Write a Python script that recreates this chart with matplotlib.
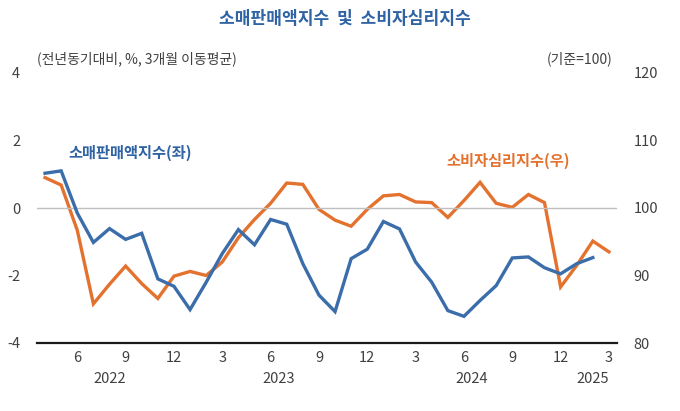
import matplotlib
matplotlib.use("Agg")
import matplotlib.pyplot as plt
import numpy as np

plt.rcParams['font.family'] = ['Noto Sans CJK KR', 'DejaVu Sans']

# ---- data ----
months = [4, 5, 6, 7, 8, 9, 10, 11, 12,
          1, 2, 3, 4, 5, 6, 7, 8, 9, 10, 11, 12,
          1, 2, 3, 4, 5, 6, 7, 8, 9, 10, 11, 12,
          1, 2, 3]
years = ['2022', '2023', '2024', '2025']
year_centers = [4, 14.5, 26.5, 34]  # category index centre of each year's months
retail = [1.03, 1.10, -0.15, -1.02, -0.61, -0.93, -0.75, -2.10, -2.32,
          -3.01, -2.20, -1.35, -0.64, -1.09, -0.34, -0.48, -1.65, -2.58, -3.07, -1.50, -1.22,
          -0.40, -0.62, -1.60, -2.20, -3.04, -3.21, -2.74, -2.30, -1.48, -1.45, -1.77, -1.95,
          -1.65, -1.47, np.nan]
csi = [104.5, 103.4, 96.7, 85.8, 88.7, 91.4, 88.8, 86.6, 89.9,
       90.6, 90.0, 92.0, 95.6, 98.3, 100.7, 103.7, 103.5, 99.8, 98.2, 97.3, 99.8,
       101.8, 102.0, 100.9, 100.8, 98.6, 101.1, 103.8, 100.7, 100.1, 102.0, 100.8, 88.3,
       91.5, 95.1, 93.5]
left_ticks = [-4, -2, 0, 2, 4]
right_ticks = [80, 90, 100, 110, 120]

BLUE = '#3A6DAA'
ORANGE = '#E4722F'
TITLE_BLUE = '#2F63A3'
TXT = '#404040'

fig = plt.figure(figsize=(6.8, 4.11), dpi=100)
ax = fig.add_axes([37/680, 1-343/411, (617-37)/680, (343-73)/411])
ax2 = ax.twinx()

x = np.arange(len(months))
ax.axhline(0, color='#BFBFBF', lw=1.0, zorder=1)
ax.plot(x, retail, color=BLUE, lw=2.4, zorder=3, solid_joinstyle='miter')
ax2.plot(x, csi, color=ORANGE, lw=2.4, zorder=3, solid_joinstyle='miter')

ax.set_xlim(-0.5, len(months) - 0.5)
ax.set_ylim(-4, 4)
ax2.set_ylim(80, 120)
ax.set_yticks(left_ticks)
ax.set_yticklabels([str(v) for v in left_ticks])
ax2.set_yticks(right_ticks)
ax2.set_yticklabels([str(v) for v in right_ticks])

ax.set_xticks(x)
ax.set_xticklabels([str(m) if m % 3 == 0 else '' for m in months])

for a in (ax, ax2):
    for s in a.spines.values():
        s.set_visible(False)
ax.spines['bottom'].set_visible(True)
ax.spines['bottom'].set_color('#1a1a1a')
ax.spines['bottom'].set_linewidth(1.6)
ax.spines['bottom'].set_zorder(5)

ax.tick_params(axis='x', length=0, pad=6, labelsize=10.5, labelcolor=TXT)
ax.tick_params(axis='y', length=0, pad=12, labelsize=10.5, labelcolor=TXT)
ax2.tick_params(axis='y', length=0, pad=12, labelsize=10.5, labelcolor=TXT)
ax.set_zorder(ax2.get_zorder() + 1)
ax.patch.set_visible(False)

for yr, c in zip(years, year_centers):
    ax.annotate(yr, xy=(c, 0), xycoords=('data', 'axes fraction'),
                xytext=(0, -26), textcoords='offset points',
                ha='center', va='center', fontsize=10.5, color=TXT)

fig.text(345/680, 1-19/411, '소매판매액지수  및  소비자심리지수', ha='center', va='center',
         fontsize=12.3, fontweight='bold', color=TITLE_BLUE)
fig.text(37/680, 1-59/411, '(전년동기대비, %, 3개월 이동평균)', ha='left', va='center',
         fontsize=10, color=TXT)
fig.text(613/680, 1-59/411, '(기준=100)', ha='right', va='center',
         fontsize=10, color=TXT)
fig.text(68/680, 1-153/411, '소매판매액지수(좌)', ha='left', va='center',
         fontsize=11, fontweight='bold', color=TITLE_BLUE)
fig.text(446/680, 1-161/411, '소비자심리지수(우)', ha='left', va='center',
         fontsize=11, fontweight='bold', color=ORANGE)

fig.savefig('out.png', dpi=100)
